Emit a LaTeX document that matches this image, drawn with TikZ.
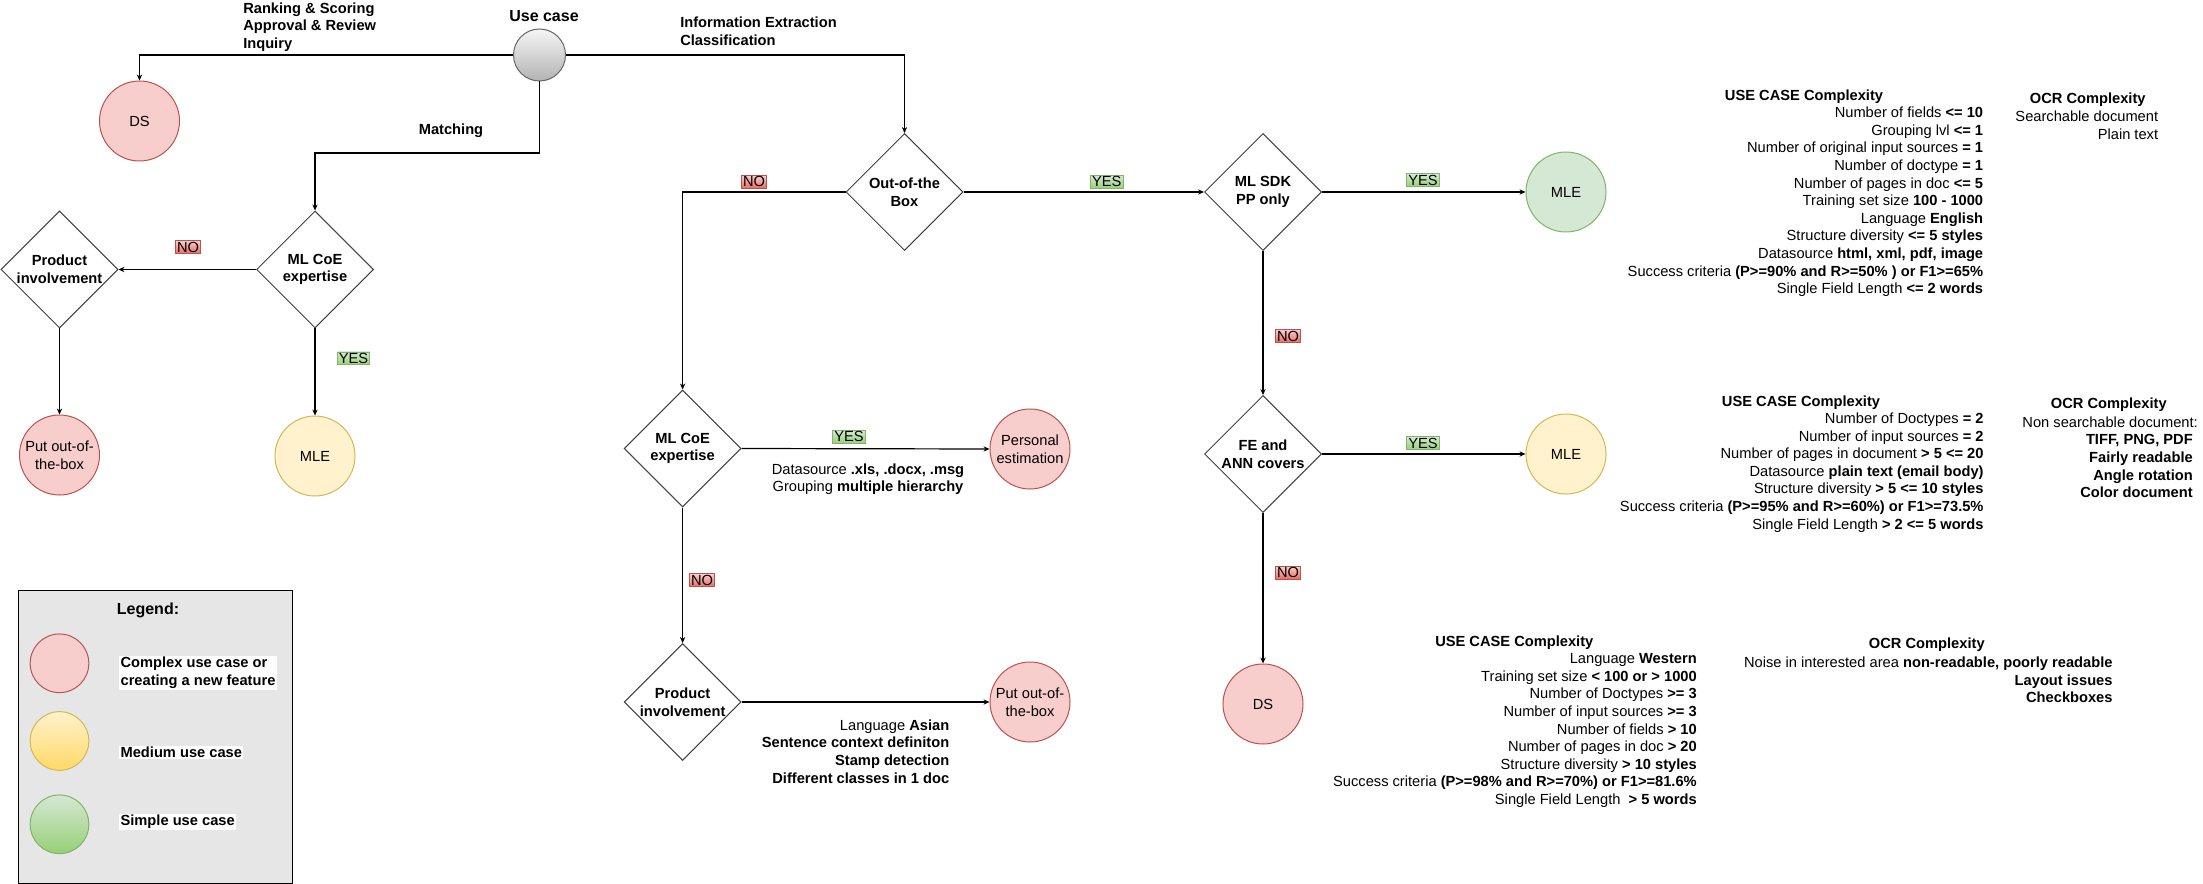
\documentclass[tikz,border=0pt]{standalone}
\usepackage{fontspec}
\setmainfont{Liberation Sans}
\usepackage{tikz}
\usetikzlibrary{arrows.meta,shapes.geometric}

\definecolor{redfill}{HTML}{F8CECC}
\definecolor{redline}{HTML}{B85450}
\definecolor{reddark}{HTML}{EA6B66}
\definecolor{greenfill}{HTML}{D5E8D4}
\definecolor{greenline}{HTML}{82B366}
\definecolor{greendark}{HTML}{97D077}
\definecolor{yellowfill}{HTML}{FFF2CC}
\definecolor{yellowline}{HTML}{D6B656}
\definecolor{yellowdark}{HTML}{FFD966}
\definecolor{greyfill}{HTML}{F5F5F5}
\definecolor{greydark}{HTML}{B3B3B3}
\definecolor{greyline}{HTML}{666666}
\definecolor{legendfill}{HTML}{E6E6E6}

\tikzset{
  txt/.style={font=\fontsize{11}{13.2}\selectfont, inner sep=0pt},
  boldtxt/.style={txt, font=\bfseries\fontsize{11}{13.2}\selectfont},
  decision/.style={diamond, shape aspect=1, draw=black!75, line width=0.75pt, minimum width=87.75pt, minimum height=87.75pt, inner sep=0pt, align=center, font=\bfseries\fontsize{11}{13.2}\selectfont},
  result/.style={circle, minimum size=60pt, inner sep=0pt, line width=0.75pt, align=center, font=\fontsize{11}{13.2}\selectfont},
  complexnode/.style={result, draw=redline, fill=redfill},
  mediumnode/.style={result, draw=yellowline, fill=yellowfill},
  simplenode/.style={result, draw=greenline, fill=greenfill},
  flow/.style={line width=0.9pt, -{Stealth[length=4.5pt,width=4pt]}},
  tagbox/.style={font=\fontsize{11}{11}\selectfont, inner xsep=1.2pt, inner ysep=0.6pt, text height=8pt, text depth=0.3pt, line width=0.6pt},
  nolabel/.style={tagbox, draw=redline, top color=redfill, bottom color=reddark},
  yeslabel/.style={tagbox, draw=greenline, top color=greenfill, bottom color=greendark},
  legendtxt/.style={font=\bfseries\fontsize{11}{13.5}\selectfont, fill=white, inner sep=1pt, align=left, anchor=west},
  legenddot/.style={circle, minimum size=44pt, inner sep=0pt, line width=0.75pt},
}

\begin{document}
\begin{tikzpicture}[x=0.75pt,y=0.75pt,yscale=-1,xscale=1]
\useasboundingbox (0,0) rectangle (2203,884);

%Shape: Circle (start)
\node[circle, minimum size=39pt, inner sep=0pt, draw=greyline, line width=0.75pt, top color=greyfill, bottom color=greydark] (usecase) at (539.5,55) {};
% Text Node
\node[txt, font=\bfseries\fontsize{12}{14}\selectfont] (usecasetitle) at (544,16) {Use case};

%Shape: Circle
\node[complexnode] (ds1) at (139.5,121) {DS};
%Shape: Diamond
\node[decision] (coe1) at (315,269.5) {ML CoE\\expertise};
%Shape: Diamond
\node[decision] (prod1) at (59.5,269.5) {Product\\involvement};
%Shape: Circle
\node[complexnode] (put1) at (59.5,455) {Put out-of-\\the-box};
%Shape: Circle
\node[mediumnode] (mle1) at (315,456) {MLE};

%Shape: Diamond
\node[decision] (oob) at (904.5,192) {Out-of-the\\Box};
%Shape: Diamond
\node[decision] (coe2) at (682.6,448.5) {ML CoE\\expertise};
%Shape: Circle
\node[complexnode] (pers) at (1030,449) {Personal\\estimation};
%Shape: Diamond
\node[decision] (prod2) at (682.6,702) {Product\\involvement};
%Shape: Circle
\node[complexnode] (put2) at (1030,702) {Put out-of-\\the-box};

%Shape: Diamond
\node[decision] (sdk) at (1263,192) {ML SDK\\PP only};
%Shape: Circle
\node[simplenode] (mle2) at (1566,192) {MLE};
%Shape: Diamond
\node[decision] (fe) at (1263,454) {FE and\\ANN covers};
%Shape: Circle
\node[mediumnode] (mle3) at (1566,454) {MLE};
%Shape: Circle
\node[complexnode] (ds2) at (1263,704) {DS};

%Straight Lines
\coordinate (matchbend) at (539.5,153);
\draw[flow] (usecase.west) -| (ds1.north);
\draw[flow] (usecase.east) -| (oob.north);
\draw[flow] (usecase.south) -- (matchbend) -| (coe1.north);
\draw[flow] (coe1.west) -- (prod1.east);
\draw[flow] (coe1.south) -- (mle1.north);
\draw[flow] (prod1.south) -- (put1.north);
\draw[flow] (oob.west) -| (coe2.north);
\draw[flow] (oob.east) -- (sdk.west);
\draw[flow] (coe2.east) -- (pers.west);
\draw[flow] (coe2.south) -- (prod2.north);
\draw[flow] (prod2.east) -- (put2.west);
\draw[flow] (sdk.east) -- (mle2.west);
\draw[flow] (sdk.south) -- (fe.north);
\draw[flow] (fe.east) -- (mle3.west);
\draw[flow] (fe.south) -- (ds2.north);

% Text Node
\node[nolabel] (no1) at (188,247) {NO};
\node[yeslabel] (yes1) at (353.6,358.3) {YES};
\node[nolabel] (no2) at (754,181.7) {NO};
\node[yeslabel] (yes2) at (1106.7,181.7) {YES};
\node[yeslabel] (yes3) at (849,436.7) {YES};
\node[nolabel] (no3) at (702,580) {NO};
\node[yeslabel] (yes4) at (1423,180) {YES};
\node[nolabel] (no4) at (1288,336) {NO};
\node[yeslabel] (yes5) at (1423,443) {YES};
\node[nolabel] (no5) at (1288,572.7) {NO};

% Text Node
\node[boldtxt, anchor=west, align=left] (kinds) at (243,27) {Ranking \& Scoring\\Approval \& Review\\Inquiry};
% Text Node
\node[boldtxt, anchor=west, align=left] (extract) at (680,31.5) {Information Extraction\\Classification};
% Text Node
\node[boldtxt] (matching) at (451,131) {Matching};
% Text Node
\node[txt, align=center] (persnote) at (868,479.3) {Datasource \textbf{.xls, .docx, .msg}\\Grouping \textbf{multiple hierarchy}};
% Text Node
\node[txt, anchor=east, align=right] (putnote) at (949.5,751.4) {Language \textbf{Asian}\\\textbf{Sentence context definiton}\\\textbf{Stamp detection}\\\textbf{Different classes in 1 doc}};

% Text Node
\node[boldtxt] (uchead1) at (1804,96.7) {USE CASE Complexity};
\node[txt, anchor=east, align=right] (uclist1) at (1983.4,202) {Number of fields \textbf{<= 10}\\Grouping lvl \textbf{<= 1}\\Number of original input sources \textbf{= 1}\\Number of doctype \textbf{= 1}\\Number of pages in doc \textbf{<= 5}\\Training set size \textbf{100 - 1000}\\Language \textbf{English}\\Structure diversity \textbf{<= 5 styles}\\Datasource \textbf{html, xml, pdf, image}\\Success criteria \textbf{(P>=90\% and R>=50\% ) or F1>=65\%}\\Single Field Length \textbf{<= 2 words}};
\node[boldtxt] (ocrhead1) at (2087.7,99.3) {OCR Complexity};
\node[txt, anchor=east, align=right] (ocrlist1) at (2158.4,125) {Searchable document\\Plain text};

% Text Node
\node[boldtxt] (uchead2) at (1801,402.3) {USE CASE Complexity};
\node[txt, anchor=east, align=right] (uclist2) at (1983.8,472.5) {Number of Doctypes \textbf{= 2}\\Number of input sources \textbf{= 2}\\Number of pages in document \textbf{> 5 <= 20}\\Datasource \textbf{plain text (email body)}\\Structure diversity \textbf{> 5 <= 10 styles}\\Success criteria \textbf{(P>=95\% and R>=60\%) or F1>=73.5\%}\\Single Field Length \textbf{> 2 <= 5 words}};
\node[boldtxt] (ocrhead2) at (2108.8,405) {OCR Complexity};
\node[txt, anchor=east] (ocrline2) at (2198,422.3) {Non searchable document:};
\node[boldtxt, anchor=east, align=right] (ocrlist2) at (2193,466.3) {TIFF, PNG, PDF\\Fairly readable\\Angle rotation\\Color document};

% Text Node
\node[boldtxt] (uchead3) at (1514.3,642.7) {USE CASE Complexity};
\node[txt, anchor=east, align=right] (uclist3) at (1697,730.5) {Language \textbf{Western}\\Training set size \textbf{< 100 or > 1000}\\Number of Doctypes \textbf{>= 3}\\Number of input sources \textbf{>= 3}\\Number of fields \textbf{> 10}\\Number of pages in doc \textbf{> 20}\\Structure diversity \textbf{> 10 styles}\\Success criteria \textbf{(P>=98\% and R>=70\%) or F1>=81.6\%}\\Single Field Length \ \textbf{> 5 words}};
\node[boldtxt] (ocrhead3) at (1926.8,645) {OCR Complexity};
\node[txt, anchor=east, align=right] (ocrlist3) at (2112.8,680) {Noise in interested area \textbf{non-readable, poorly readable}\\\textbf{Layout issues}\\\textbf{Checkboxes}};

%Shape: Rectangle (legend)
\draw[fill=legendfill, line width=0.9pt] (18.3,590.7) rectangle (292.7,883.3);
% Text Node
\node[boldtxt, font=\bfseries\fontsize{12}{14}\selectfont] (legendtitle) at (148,610.7) {Legend:};
%Shape: Circle
\node[legenddot, draw=redline, fill=redfill] (legendred) at (59.5,663.3) {};
\node[legenddot, draw=yellowline, top color=yellowfill, bottom color=yellowdark] (legendyellow) at (59.5,741) {};
\node[legenddot, draw=greenline, top color=greenfill, bottom color=greendark] (legendgreen) at (59.5,824.3) {};
% Text Node
\node[legendtxt] (legendcomplex) at (119,673) {Complex use case or\\creating a new feature};
\node[legendtxt] (legendmedium) at (119,752.7) {Medium use case};
\node[legendtxt] (legendsimple) at (119,821.7) {Simple use case};

\end{tikzpicture}
\end{document}
